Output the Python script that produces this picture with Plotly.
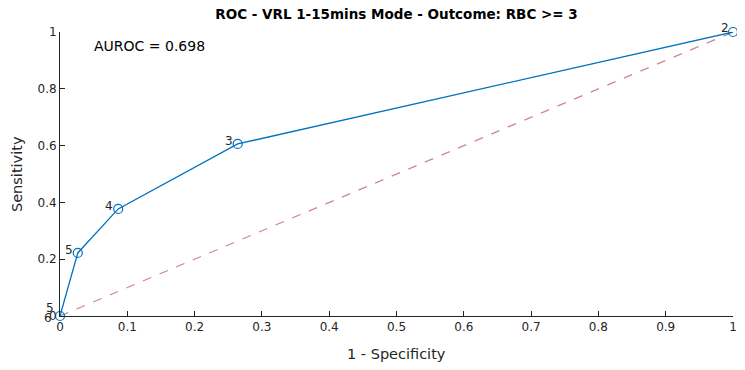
import plotly.graph_objects as go

fpr = [1.0, 0.264, 0.0865, 0.0264, 0.0]
tpr = [1.0, 0.606, 0.377, 0.222, 0.0]
point_labels = ["2", "3", "4", "5", "6"]
diag_x = [0, 1]
diag_y = [0, 1]
x_ticks = [0, 0.1, 0.2, 0.3, 0.4, 0.5, 0.6, 0.7, 0.8, 0.9, 1]
x_tick_text = ["0", "0.1", "0.2", "0.3", "0.4", "0.5", "0.6", "0.7", "0.8", "0.9", "1"]
y_ticks = [0, 0.2, 0.4, 0.6, 0.8, 1]
y_tick_text = ["0", "0.2", "0.4", "0.6", "0.8", "1"]
auroc = 0.698

FONT = "DejaVu Sans, Liberation Sans, Arial, sans-serif"
AX = "#262626"

# the page body has an 8px margin on every side; the visible area ends near x=738,
# so keep the right end of the axis slightly inside it
W, H = 737, 354
ML, MT, MR, MB = 52, 24, 12, 46
PW, PH = W - ML - MR, H - MT - MB

fig = go.Figure()
fig.add_trace(go.Scatter(x=diag_x, y=diag_y, mode="lines",
                         line=dict(color="#CC8A8A", width=1.3, dash="dash"),
                         hoverinfo="skip", showlegend=False, cliponaxis=False))
fig.add_trace(go.Scatter(x=fpr, y=tpr, mode="lines+markers",
                         line=dict(color="#0072BD", width=1.3),
                         marker=dict(symbol="circle-open", size=9, color="#0072BD",
                                     line=dict(width=1.2)),
                         showlegend=False, cliponaxis=False))

offsets = {"2": (-8, -4), "3": (-9, -3), "4": (-9, -3), "5": (-9, -3), "6": (-12, 2)}
for xv, yv, lab in zip(fpr, tpr, point_labels):
    dx, dy = offsets[lab]
    fig.add_annotation(x=xv, y=yv, text=lab, showarrow=False, xanchor="center", yanchor="middle",
                       xshift=dx, yshift=-dy, font=dict(family=FONT, size=12, color=AX))
# second label at the origin
fig.add_annotation(x=fpr[-1], y=tpr[-1], text="5", showarrow=False, xanchor="center",
                   yanchor="middle", xshift=-10, yshift=8,
                   font=dict(family=FONT, size=12, color=AX))

fig.add_annotation(x=0.048, y=0.95, xref="x", yref="y", text=f"AUROC = {auroc}",
                   showarrow=False, xanchor="left", yanchor="middle",
                   font=dict(family=FONT, size=14, color="#000000"))

# axis titles (paper coords = plot area domain)
fig.add_annotation(x=0.5, y=(MT + PH - 346) / PH, xref="paper", yref="paper",
                   text="1 - Specificity", showarrow=False, xanchor="center", yanchor="middle",
                   font=dict(family=FONT, size=14.5, color=AX))
fig.add_annotation(x=(9 - ML) / PW, y=0.5, xref="paper", yref="paper",
                   text="Sensitivity", showarrow=False, textangle=-90, xanchor="center",
                   yanchor="middle", font=dict(family=FONT, size=14.5, color=AX))

fig.update_layout(
    width=W, height=H,
    margin=dict(l=ML, r=MR, t=MT, b=MB),
    paper_bgcolor="white", plot_bgcolor="white",
    title=dict(text="<b>ROC - VRL 1-15mins Mode - Outcome: RBC >= 3</b>",
               x=(ML + PW / 2) / W, xanchor="center", y=1 - 2 / H, yanchor="top",
               font=dict(family=FONT, size=13.5, color="#000000")),
    font=dict(family=FONT, size=12, color=AX),
)
fig.update_xaxes(range=[0, 1], tickvals=x_ticks, ticktext=x_tick_text, ticks="inside",
                 ticklen=5, tickcolor=AX, showline=True, linecolor=AX, linewidth=1,
                 showgrid=False, zeroline=False, mirror=False, automargin=False,
                 tickfont=dict(family=FONT, size=12, color=AX))
fig.update_yaxes(range=[0, 1], tickvals=y_ticks, ticktext=y_tick_text, ticks="inside",
                 ticklen=5, tickcolor=AX, showline=True, linecolor=AX, linewidth=1,
                 showgrid=False, zeroline=False, mirror=False, automargin=False,
                 tickfont=dict(family=FONT, size=12, color=AX))

fig.write_html("out.html")
